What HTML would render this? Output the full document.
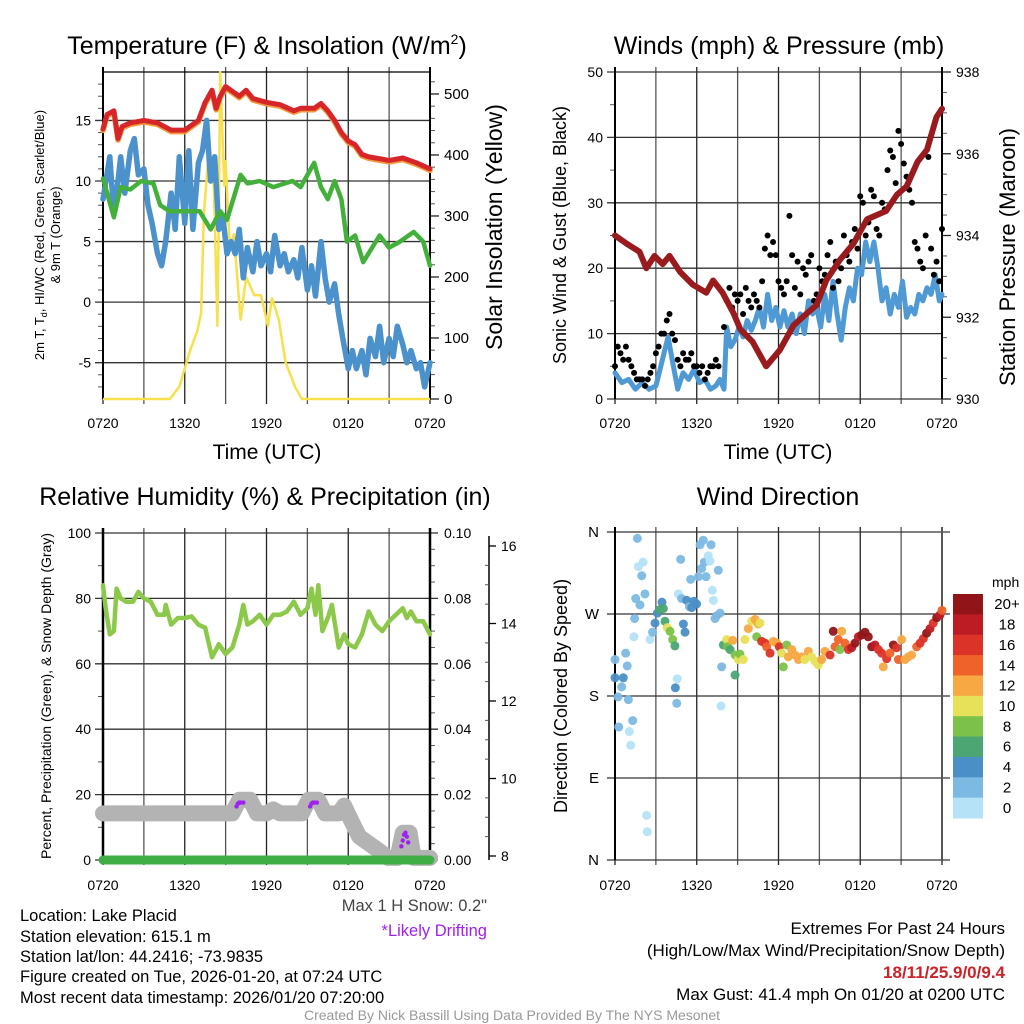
<!DOCTYPE html>
<html><head><meta charset="utf-8">
<style>
html,body{margin:0;padding:0;background:#fff;}
svg{display:block;font-family:"Liberation Sans",sans-serif;}
</style></head>
<body>
<svg id="chart" width="1024" height="1024" viewBox="0 0 1024 1024" xmlns="http://www.w3.org/2000/svg">
<rect width="1024" height="1024" fill="#fff"/>
<g id="layer"></g>
<text x="267" y="54" font-size="25" text-anchor="middle">Temperature (F) &amp; Insolation (W/m<tspan font-size="14" dy="-10">2</tspan><tspan dy="10">)</tspan></text>
<text x="779" y="54" font-size="25" text-anchor="middle">Winds (mph) &amp; Pressure (mb)</text>
<text x="265" y="505" font-size="25" text-anchor="middle">Relative Humidity (%) &amp; Precipitation (in)</text>
<text x="778" y="505" font-size="25" text-anchor="middle">Wind Direction</text>
<text transform="translate(44,235) rotate(-90)" font-size="13" text-anchor="middle">2m T, T<tspan font-size="9" dy="3">d</tspan><tspan dy="-3">, HI/WC (Red, Green, Scarlet/Blue)</tspan></text>
<text transform="translate(60,235) rotate(-90)" font-size="13" text-anchor="middle">&amp; 9m T (Orange)</text>
<text transform="translate(502,227) rotate(-90)" font-size="23" text-anchor="middle">Solar Insolation (Yellow)</text>
<text x="267" y="459" font-size="21" text-anchor="middle">Time (UTC)</text>
<text x="778" y="459" font-size="21" text-anchor="middle">Time (UTC)</text>
<text transform="translate(566,235) rotate(-90)" font-size="18" text-anchor="middle">Sonic Wind &amp; Gust (Blue, Black)</text>
<text transform="translate(1015,257) rotate(-90)" font-size="22" text-anchor="middle">Station Pressure (Maroon)</text>
<text transform="translate(51,696) rotate(-90)" font-size="14" text-anchor="middle">Percent, Precipitation (Green), &amp; Snow Depth (Gray)</text>
<text transform="translate(567,696) rotate(-90)" font-size="18" text-anchor="middle">Direction (Colored By Speed)</text>
<text x="487" y="911" font-size="16.5" fill="#444" text-anchor="end">Max 1 H Snow: 0.2"</text>
<text x="487" y="936" font-size="16.5" fill="#a020f0" text-anchor="end">*Likely Drifting</text>
<g font-size="16.5">
<text x="20" y="921">Location: Lake Placid</text>
<text x="20" y="942">Station elevation: 615.1 m</text>
<text x="20" y="962">Station lat/lon: 44.2416; -73.9835</text>
<text x="20" y="982">Figure created on Tue, 2026-01-20, at 07:24 UTC</text>
<text x="20" y="1003">Most recent data timestamp: 2026/01/20 07:20:00</text>
</g>
<g font-size="17" text-anchor="end">
<text x="1005" y="934">Extremes For Past 24 Hours</text>
<text x="1005" y="956">(High/Low/Max Wind/Precipitation/Snow Depth)</text>
<text x="1005" y="978" font-weight="bold" fill="#cc2229">18/11/25.9/0/9.4</text>
<text x="1005" y="1000">Max Gust: 41.4 mph On 01/20 at 0200 UTC</text>
</g>
<text x="512" y="1020" font-size="14" fill="#999" text-anchor="middle">Created By Nick Bassill Using Data Provided By The NYS Mesonet</text>
</svg>
<script>
// ---------- DATA ----------
const xTickLabels = ["0720","1320","1920","0120","0720"];
// Temperature panel
const tempTimes = [0,0.3,0.8,1.1,1.4,2,3,4,5,6,7,7.5,8,8.3,8.6,9,10,10.5,11,12,13,14,14.5,15.5,16,16.5,17,17.5,18,18.5,19,19.5,20,21,22,23,24];
const tempVals  = [14.3,15.5,15.8,13.5,14.5,14.8,15,14.8,14.2,14.2,15,16.5,17.5,16,17,17.8,17,17.5,16.8,16.5,16.3,15.8,16,16,16.4,15.8,15,14,13.3,13,12.2,12,11.9,11.7,11.9,11.5,11.0];
const hiwcTimes = [0,0.8,1.3,2,2.8,3.7,4.2,4.9,7.1,7.9,8.6,9.1,10.1,10.6,11.5,12.5,13.9,14.5,15.5,16,16.5,17,17.5,17.9,18.5,19.1,20.3,21,21.8,22.8,23.5,24];
const hiwcVals  = [10.2,7,9.5,9.3,10,9.8,8,7.5,7.5,6,7.5,6.8,10.5,9.8,10,9.5,10,9.5,11.5,9.5,8.5,10,8.5,5,5.5,3.3,5.5,4.5,5,5.8,5,3];
const dewTimes = [0,0.5,0.75,1,1.3,1.6,2,2.3,2.6,3,3.3,3.6,4,4.3,4.6,5,5.3,5.6,6,6.3,6.6,7,7.3,7.6,7.9,8.2,8.5,8.8,9.1,9.4,9.7,10,10.3,10.6,11,11.3,11.6,12,12.3,12.6,13,13.3,13.6,14,14.3,14.6,15,15.3,15.6,16,16.3,16.6,17,17.3,17.6,18,18.3,18.6,19,19.3,19.6,20,20.3,20.6,21,21.3,21.6,22,22.3,22.6,23,23.3,23.6,24];
const dewVals  = [8.5,12,8,9,12,9,12.5,13.5,10.5,11,8,6.5,4,3,5,9,6,12,6.5,12.5,6,11.5,12.5,15,10,12,6,7,4,5,4,6,2,4.5,2.5,5,3,4,2.5,5.5,3,4,2.5,3.5,2,4.5,1,3,0.5,5,2,0,1.5,-1,-3,-5.5,-4,-5.5,-4,-6,-3,-4.5,-2,-5,-3,-4.5,-2,-3.5,-5,-4,-5.5,-5,-7,-5];
const solarTimes = [0,4.9,5.6,6.4,6.9,7.2,7.4,7.7,8.1,8.4,8.5,8.6,8.9,9.0,9.3,9.6,10.1,10.5,11.1,11.6,12.1,12.4,12.9,13.4,14.1,14.6,24];
const solarVals  = [0,0,20,80,110,140,300,390,380,120,300,536,350,390,250,270,130,200,170,170,120,165,130,60,20,0,0];
// Wind panel
const pressTimes = [0,0.86,1.8,2.3,2.9,3.5,4.0,4.8,5.7,6.7,7.2,7.9,8.7,9.2,10.1,11.1,12.1,13.1,14.1,14.8,15.5,16.5,17.5,18.5,19.9,20.7,21.4,22.2,22.9,23.6,24];
const pressVals  = [934.0,933.8,933.6,933.2,933.5,933.3,933.5,933.1,932.8,932.6,932.9,932.6,932.1,931.7,931.4,930.8,931.2,931.8,932.1,932.3,932.9,933.4,933.8,934.4,934.6,935.0,935.2,935.8,936.1,936.9,937.1];
const windTimes = [0,0.5,1,1.5,2,2.5,3,3.3,3.6,3.9,4.2,4.6,5,5.4,5.8,6.2,6.6,7,7.4,7.7,8.0,8.2,8.5,8.8,9.1,9.4,9.7,10,10.3,10.6,10.9,11.2,11.5,11.8,12.1,12.4,12.7,13.0,13.3,13.6,13.9,14.2,14.5,14.8,15.1,15.4,15.7,16.0,16.3,16.6,16.9,17.2,17.5,17.8,18.1,18.4,18.7,19.0,19.3,19.6,19.9,20.2,20.5,20.8,21.1,21.4,21.7,22.0,22.3,22.6,22.9,23.2,23.5,23.8,24];
const windVals  = [4,2.5,3,1.5,2.5,1.5,2,4.5,7,9.5,6,1.5,4,3,4.5,2.5,3,1.5,2,3,1.5,11,8,9,11,9.5,12,10.5,12,14,11,16,12,14,11,13.5,11,13,10,13,10,15,13,14,11,16,12,18,13,9,14,17,15,20,19,24,21,24,20,15,17,13,16,14,18,12.5,14,13,16,15,17,16,19,15,16];
const gustStart1 = 0, gustStart2 = 8.0, gustStep = 0.2;
const gustVals1 = [5,8,7,6,8,6,5,4,3,3,3,2,3,4,5,7,8,10,10,12,13,10,9,6,5,7,6,6,7,5,5,4,5,3,4,5,5,6,5];
const gustVals2 = [11,15,17,14,16,15,16,13,17,15,14,16,15,14,18,23,25,22,24,22,18,17,16,18,28,22,17,21,16,20,19,21,22,15,16,20,18,19,22,24,17,21,18,20,25,22,21,24,26,23,31,30,25,27,32,31,26,25,30,29,35,38,37,33,41,39,36,34,32,30,24,23,21,20,25,37,23,19,21,18,26];
// Humidity panel
const rhTimes = [0,0.2,0.5,0.8,1.0,1.3,1.7,2.2,2.6,3.0,3.5,4,4.5,4.6,5.0,5.5,6,6.5,7.0,7.5,8,8.5,9,9.5,10,10.3,10.6,11,11.5,12,12.5,13,13.5,14,14.5,15,15.3,15.6,15.8,16.1,16.5,16.8,17.3,17.7,18.0,18.5,19,19.5,20,20.5,21,21.5,22,22.3,22.6,23,23.5,24];
const rhVals  = [84,77,69,70,83,80,79,79,82,80,79,75,75,78,72,74,74,74.5,72,71,62,66,63,65,72,78,72,73,75,72,75,75,76,79,75,77,83,75,84,70,74,78,65,69,66,65,69,76,72,70,73,75,77,74,76,73,73,69];
const snowTimes = [0,9.5,10.0,10.8,11.3,12,12.5,13,14.6,15.1,15.8,16.3,17.3,17.7,18.1,18.8,19.6,20.4,20.9,21.6,22.0,22.5,22.8,24];
const snowVals  = [9.1,9.1,9.45,9.45,9.1,9.1,9.2,9.1,9.1,9.45,9.45,9.1,9.1,9.3,9.0,8.5,8.3,8.1,7.95,7.95,8.6,8.6,7.95,7.95];
const driftTimes = [9.8,9.9,10.0,10.1,10.3,15.2,15.3,15.4,15.5,15.7,21.9,22.0,22.1,22.2,22.3,22.4];
const driftVals  = [9.28,9.35,9.38,9.38,9.38,9.28,9.35,9.38,9.38,9.38,8.25,8.4,8.55,8.6,8.5,8.35];
const precipTimes = [0,24];
const precipVals = [0,0];
// Direction panel
const dirTimes = [0,0,0.22,0.27,0.49,0.61,0.78,0.9,0.98,1.05,1.15,1.3,1.39,1.44,1.52,1.64,1.71,1.83,1.96,2.06,2.2,2.32,2.37,2.57,2.76,2.94,3.11,3.3,3.45,3.55,3.67,3.84,4.04,4.23,4.4,4.43,4.53,4.57,4.65,4.82,4.89,5.02,5.14,5.26,5.46,5.55,5.63,5.8,5.99,6.12,6.24,6.36,6.48,6.56,6.68,6.85,6.97,7.05,7.14,7.22,7.34,7.46,7.58,7.71,7.78,7.83,7.95,8.2,8.27,8.44,8.64,8.81,8.81,9.05,9.17,9.42,9.54,9.79,10.03,10.28,10.4,10.52,10.64,10.76,11.01,11.13,11.38,11.62,11.87,12.06,12.23,12.35,12.6,12.72,12.97,13.21,13.46,13.7,13.94,14.19,14.43,14.68,14.92,15.17,15.41,15.78,16.02,16.15,16.39,16.51,16.64,16.88,17.13,17.37,17.61,17.86,18.1,18.35,18.59,18.84,19.08,19.33,19.57,19.69,19.94,20.18,20.43,20.67,20.8,21.04,21.28,21.53,21.77,22.14,22.39,22.63,22.87,23.12,23.36,23.61,23.85,24];
const dirVals = [220,200,179,146,190,200,227,213,176,141,126,153,245,265,287,353,322,280,312,327,292,49,31,242,250,260,271,275,283,276,262,255,251,242,235,189,172,199,292,330,287,259,250,285,278,308,277,284,281,311,346,320,351,327,311,334,328,346,296,285,265,268,318,271,169,212,236,242,234,231,241,225,203,220,226,220,242,254,262,264,245,259,260,240,238,234,227,240,238,234,227,212,236,223,231,225,220,223,220,229,223,218,214,220,229,225,251,234,242,231,251,238,231,233,238,245,247,250,245,234,236,231,227,212,221,227,236,233,220,242,220,223,225,234,238,243,249,254,260,266,269,274];
const dirSpeeds = [3,4,3,2,3,4,2,2,2,1,0,2,0,2,2,2,1,2,2,0,2,0,0,1,3,4,5,6,4,6,7,10,8,8,7,4,3,0,0,3,2,4,4,4,3,3,4,4,4,2,2,2,2,2,2,1,0,2,1,0,2,2,2,2,0,3,7,11,8,7,12,8,6,10,9,10,10,12,10,12,8,12,11,16,16,15,16,12,13,17,10,8,8,12,12,12,12,13,10,12,11,10,10,12,13,17,20,14,15,8,12,15,17,18,20,19,20,20,20,20,19,17,17,13,16,15,20,16,15,13,12,13,12,14,16,17,20,18,17,20,19,14];
const speedBinLabels = ["0","2","4","6","8","10","12","14","16","18","20+"];
const speedBinColors = ["#b5e2f7","#7cb9e3","#4a8fc6","#4ba673","#7cc24a","#e6e158","#f7a843","#ef6229","#dc3329","#bd1c25","#911518"];
const dirLabels = ["N","E","S","W","N"];

// ---------- HELPERS ----------
const NS = "http://www.w3.org/2000/svg";
const layer = document.getElementById("layer");
function mk(tag, attrs, parent){
  const e = document.createElementNS(NS, tag);
  for (const k in attrs) e.setAttribute(k, attrs[k]);
  (parent||layer).appendChild(e);
  return e;
}
function lin(d0,d1,r0,r1){ return v => r0 + (v-d0)*(r1-r0)/(d1-d0); }
function pathFrom(ts, vs, sx, sy){
  return ts.map((t,i)=>(i?"L":"M")+sx(t).toFixed(1)+","+sy(vs[i]).toFixed(1)).join("");
}
function frame(L,R,T,B,name){
  const g = mk("g",{});
  
  
  return g;
}
function timeGrid(g,L,R,T,B,sx,labelY){
  for (let h=0; h<=24; h+=3){
    const x = sx(h);
    const ln = mk("line",{x1:x,y1:T-5,x2:x,y2:B+5,stroke:(h%6===0)?"#222":"#555","stroke-width":1.3},g);
    
    
  }
  xTickLabels.forEach((lab,i)=>{
    const t = mk("text",{x:sx(i*6),y:labelY,"font-size":14,"text-anchor":"middle"},g);
    t.textContent = lab;
    
    
  });
}
function hGrid(g,L,R,ys,leftTick,rightTick){
  ys.forEach(y=>{
    const ln = mk("line",{x1:L-leftTick,y1:y,x2:R+rightTick,y2:y,stroke:"#333","stroke-width":1.3},g);
    
    
  });
}
function minorTicks(g,x,ys,len){
  ys.forEach(y=>{ mk("line",{x1:x,y1:y,x2:x+len,y2:y,stroke:"#555","stroke-width":1},g); });
}
function tickLabel(g,x,y,txt,anchor,name,size){
  const t = mk("text",{x:x,y:y+5,"font-size":size||14,"text-anchor":anchor},g);
  t.textContent = txt;
  
  
}

// ---------- PANEL 1: TEMPERATURE ----------
(function(){
  const L=103,R=430,T=72,B=399;
  const sx = lin(0,24,L,R), sy = lin(-8,19,B,T), sSol = lin(0,536,B,T);
  const g = frame(L,R,T,B,"temperature-panel");
  timeGrid(g,L,R,T,B,sx,428);
  hGrid(g,L,R,[-5,0,5,10,15].map(sy),8,0);
  [-5,0,5,10,15].forEach(v=>tickLabel(g,L-12,sy(v),String(v),"end","temperature-tick-label"));
  [0,100,200,300,400,500].forEach(v=>{
    mk("line",{x1:R,y1:sSol(v),x2:R+9,y2:sSol(v),stroke:"#222","stroke-width":1.3},g);
    tickLabel(g,R+14,sSol(v),String(v),"start","insolation-tick-label",15);
  });
  const minY=[]; for(let v=-7;v<=18;v++) if(v%5) minY.push(sy(v)); minorTicks(g,L-5,minY,5);
  const minS=[]; for(let v=20;v<536;v+=20) if(v%100) minS.push(sSol(v)); minorTicks(g,R,minS,5);
  mk("line",{x1:L,y1:T-5,x2:L,y2:B,stroke:"#000","stroke-width":2},g);
  mk("line",{x1:R,y1:T-5,x2:R,y2:B,stroke:"#000","stroke-width":2},g);
  mk("line",{x1:L,y1:T,x2:R,y2:T,stroke:"#000","stroke-width":1.3},g);
  let p;
  p = mk("path",{d:pathFrom(solarTimes,solarVals,sx,sSol),fill:"none",stroke:"#f7e04b","stroke-width":2.5,"stroke-linejoin":"round"},g);
   
  p = mk("path",{d:pathFrom(dewTimes,dewVals,sx,sy),fill:"none",stroke:"#4b91cb","stroke-width":5.5,"stroke-linejoin":"round","stroke-linecap":"round"},g);
   
  p = mk("path",{d:pathFrom(hiwcTimes,hiwcVals,sx,sy),fill:"none",stroke:"#44b03c","stroke-width":4.5,"stroke-linejoin":"round","stroke-linecap":"round"},g);
   
  p = mk("path",{d:pathFrom(tempTimes,tempVals,sx,v=>sy(v)+1.5),fill:"none",stroke:"#f39a3c","stroke-width":5.5,"stroke-linejoin":"round","stroke-linecap":"round"},g);
   
  p = mk("path",{d:pathFrom(tempTimes,tempVals,sx,sy),fill:"none",stroke:"#d7262a","stroke-width":5,"stroke-linejoin":"round","stroke-linecap":"round"},g);
   
})();

// ---------- PANEL 2: WIND ----------
(function(){
  const L=615,R=942,T=72,B=399;
  const sx = lin(0,24,L,R), sy = lin(0,50,B,T), sp = lin(930,938,B,T);
  const g = frame(L,R,T,B,"wind-panel");
  timeGrid(g,L,R,T,B,sx,428);
  hGrid(g,L,R,[0,10,20,30,40,50].map(sy),8,0);
  [0,10,20,30,40,50].forEach(v=>tickLabel(g,L-12,sy(v),String(v),"end","wind-tick-label"));
  [930,932,934,936,938].forEach(v=>{
    mk("line",{x1:R,y1:sp(v),x2:R+9,y2:sp(v),stroke:"#222","stroke-width":1.3},g);
    tickLabel(g,R+14,sp(v),String(v),"start","pressure-tick-label");
  });
  const minY=[]; for(let v=5;v<50;v+=10) minY.push(sy(v)); minorTicks(g,L-5,minY,5);
  const minP=[]; for(let v=930.5;v<938;v+=0.5) if(v%2) minP.push(sp(v)); minorTicks(g,R,minP,5);
  mk("line",{x1:L,y1:T-5,x2:L,y2:B,stroke:"#000","stroke-width":2},g);
  mk("line",{x1:R,y1:T-5,x2:R,y2:B,stroke:"#000","stroke-width":2},g);
  let p = mk("path",{d:pathFrom(windTimes,windVals,sx,sy),fill:"none",stroke:"#4f9ad4","stroke-width":5,"stroke-linejoin":"round","stroke-linecap":"round"},g);
   
  const gg = mk("g",{},g);
   
  gustVals1.forEach((v,i)=>{
    const c = mk("circle",{cx:sx(gustStart1+i*gustStep),cy:sy(v),r:3,fill:"#000"},gg);
     
  });
  gustVals2.forEach((v,i)=>{
    const c = mk("circle",{cx:sx(Math.min(24,gustStart2+i*gustStep)),cy:sy(v),r:3,fill:"#000"},gg);
     
  });
  p = mk("path",{d:pathFrom(pressTimes,pressVals,sx,sp),fill:"none",stroke:"#9a1b1e","stroke-width":6,"stroke-linejoin":"round","stroke-linecap":"round"},g);
   
})();

// ---------- PANEL 3: HUMIDITY ----------
(function(){
  const L=103,R=430,T=533,B=860;
  const sx = lin(0,24,L,R), sy = lin(0,100,B,T), sPr = lin(0,0.1,B,T), sSn = lin(8,16,856,546);
  const g = frame(L,R,T,B,"humidity-panel");
  timeGrid(g,L,R,T,B,sx,890);
  hGrid(g,L,R,[0,20,40,60,80,100].map(sy),8,8);
  [0,20,40,60,80,100].forEach(v=>tickLabel(g,L-12,sy(v),String(v),"end","humidity-tick-label"));
  [0,0.02,0.04,0.06,0.08,0.1].forEach(v=>tickLabel(g,R+14,sPr(v),v.toFixed(2),"start","precip-tick-label"));
  const minY=[]; for(let v=10;v<100;v+=20) minY.push(sy(v)); minorTicks(g,L-5,minY,5);
  const minP=[]; for(let v=0.005;v<0.1;v+=0.005) if(Math.round(v*1000)%20) minP.push(sPr(v)); minorTicks(g,R,minP,5);
  const SX=489;
  mk("line",{x1:SX,y1:546-10,x2:SX,y2:860,stroke:"#000","stroke-width":1.5},g);
  [8,10,12,14,16].forEach(v=>{
    mk("line",{x1:SX,y1:sSn(v),x2:SX+7,y2:sSn(v),stroke:"#000","stroke-width":1.3},g);
    tickLabel(g,SX+12,sSn(v),String(v),"start","snow-tick-label");
  });
  const minS=[]; for(let v=8.5;v<16.4;v+=0.5) if(v%2) minS.push(sSn(v)); minorTicks(g,SX-4,minS,4);
  mk("line",{x1:L,y1:T-5,x2:L,y2:B,stroke:"#000","stroke-width":2.5},g);
  mk("line",{x1:R,y1:T-5,x2:R,y2:B,stroke:"#000","stroke-width":2.5},g);
  let p = mk("path",{d:pathFrom(snowTimes,snowVals,sx,sSn),fill:"none",stroke:"#b3b3b3","stroke-width":16,"stroke-linejoin":"round","stroke-linecap":"round"},g);
   
  p = mk("path",{d:pathFrom(precipTimes,precipVals,sx,sPr),fill:"none",stroke:"#3fae45","stroke-width":9,"stroke-linecap":"round"},g);
   
  driftTimes.forEach((t,i)=>{
    const c = mk("circle",{cx:sx(t),cy:sSn(driftVals[i]),r:2.2,fill:"#a020f0"},g);
     
  });
  p = mk("path",{d:pathFrom(rhTimes,rhVals,sx,sy),fill:"none",stroke:"#8cc94a","stroke-width":4.5,"stroke-linejoin":"round","stroke-linecap":"round"},g);
   
})();

// ---------- PANEL 4: DIRECTION ----------
(function(){
  const L=615,R=942,T=532,B=860;
  const sx = lin(0,24,L,R), sy = lin(0,360,B,T);
  const g = frame(L,R,T,B,"direction-panel");
  timeGrid(g,L,R,T,B,sx,890);
  hGrid(g,L,R,[0,90,180,270,360].map(sy),8,8);
  dirLabels.forEach((lab,i)=>tickLabel(g,L-16,sy(i*90),lab,"end","direction-tick-label",15));
  mk("line",{x1:L,y1:T-5,x2:L,y2:B,stroke:"#000","stroke-width":2},g);
  mk("line",{x1:R,y1:T-5,x2:R,y2:B,stroke:"#555","stroke-width":2},g);
  function binColor(s){ return speedBinColors[Math.min(10,Math.max(0,Math.floor(s/2)))]; }
  const dg = mk("g",{},g);
   
  dirTimes.forEach((t,i)=>{
    const c = mk("circle",{cx:sx(t),cy:sy(dirVals[i]),r:4.5,fill:binColor(dirSpeeds[i]),"fill-opacity":0.95},dg);
     
  });
  const lg = mk("g",{},g);
   
  const top=594, h=224/11;
  speedBinColors.forEach((col,i)=>{
    const idx = 10-i;
    const y = top + i*h;
    const r = mk("rect",{x:953,y:y,width:30,height:h+0.5,fill:speedBinColors[idx]},lg);
     
    tickLabel(lg,1007,y+h/2,speedBinLabels[idx],"middle","colorbar-label",15);
  });
  const u = mk("text",{x:992,y:587,"font-size":14},lg);
  u.textContent="mph";
   
})();
</script>
</body></html>
